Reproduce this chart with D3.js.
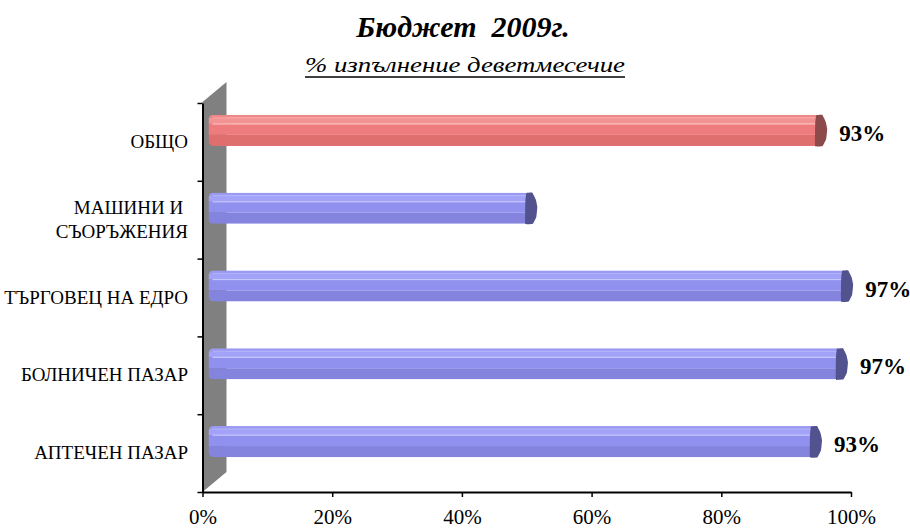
<!DOCTYPE html>
<html>
<head>
<meta charset="utf-8">
<script src="https://cdn.jsdelivr.net/npm/d3@7"></script>
<style>
  body { margin: 0; background: #fff; }
  svg { display: block; font-family: "Liberation Serif", "Times New Roman", serif; }
</style>
</head>
<body>
<svg id="chart"></svg>
<script>
// data, top to bottom
const categories = ["ОБЩО", "МАШИНИ И \nСЪОРЪЖЕНИЯ", "ТЪРГОВЕЦ НА ЕДРО", "БОЛНИЧЕН ПАЗАР", "АПТЕЧЕН ПАЗАР"];
const values = [0.934, 0.487, 0.974, 0.966, 0.926];
const showLabel = [true, false, true, true, true];
const xTicks = [0, 0.2, 0.4, 0.6, 0.8, 1];

const width = 910, height = 529;
const depthX = 24, depthY = 20;

const svg = d3.select("#chart").attr("width", width).attr("height", height);

const x = d3.scaleLinear().domain([0, 1]).range([202.5, 851]);
const y = d3.scaleBand().domain(categories).range([103, 492]);
const yLin = d3.scaleLinear().domain([0, categories.length]).range([103, 492]);

const pct = d3.format(".0%");

const palette = {
  blue: { f0: "#9a9af2", l0: "#b4b4fc", f1: "#a2a2f8", l1: "#c6c6ff", f2: "#9090ee", f3: "#8484df", cap: "#52528e" },
  red:  { f0: "#ee8888", l0: "#fbaaaa", f1: "#f39292", l1: "#ffbdbd", f2: "#ef7c7c", f3: "#df6e6e", cap: "#8c4a4a" }
};

// back wall
const x0 = x(0), yb = y.range()[1], yt = y.range()[0] - 1;
svg.append("path")
  .attr("d", `M${x0},${yt} L${x0 + depthX},${yt - depthY} L${x0 + depthX},${yb - depthY} L${x0},${yb} Z`)
  .attr("fill", "#808080");

// bars
const defs = svg.append("defs");
const barH = y.bandwidth() * 0.4;
const bars = svg.append("g");

categories.forEach((c, i) => {
  const col = c === "ОБЩО" ? palette.red : palette.blue;
  const top = y(c) + (y.bandwidth() - barH) / 2 - depthY / 2 - 1.5;
  const xs = x(0) + 6;
  const xe = x(values[i]) + 9;
  const w = xe - xs;

  defs.append("clipPath").attr("id", "clip" + i)
    .append("rect")
    .attr("x", xs).attr("y", top).attr("width", w + 4).attr("height", barH).attr("rx", 5);

  const g = bars.append("g").attr("clip-path", `url(#clip${i})`);
  const facets = [
    [0, 3, col.f0], [3, 9, col.f1], [9, 20, col.f2], [20, barH, col.f3]
  ];
  facets.forEach(([a, b, fill]) => {
    g.append("rect").attr("x", xs).attr("y", top + a).attr("width", w + 4).attr("height", b - a).attr("fill", fill);
  });
  g.append("rect").attr("x", xs + 4).attr("y", top + 2.5).attr("width", w).attr("height", 1).attr("fill", col.l0);
  g.append("rect").attr("x", xs + 4).attr("y", top + 8.5).attr("width", w).attr("height", 1.2).attr("fill", col.l1);

  // end cap: flat hexagon-like face
  const capPts = [
    [xe - 1, top + 0.5], [xe + 5, top], [xe + 8.5, top + barH * 0.22], [xe + 10, top + barH * 0.45],
    [xe + 9, top + barH * 0.78], [xe + 5.5, top + barH], [xe - 2, top + barH], [xe - 2, top + barH * 0.3]
  ];
  bars.append("path")
    .attr("d", d3.line().curve(d3.curveCardinalClosed.tension(0.75))(capPts))
    .attr("fill", col.cap);

  if (showLabel[i]) {
    svg.append("text")
      .attr("x", x(values[i]) + 31)
      .attr("y", top + barH / 2 + 3)
      .attr("dominant-baseline", "central")
      .attr("font-size", 23)
      .attr("font-weight", "bold")
      .text(pct(values[i]));
  }
});

// left axis (ticks on category boundaries)
const yAxis = svg.append("g")
  .attr("transform", `translate(${x0},0)`)
  .call(d3.axisLeft(yLin).ticks(categories.length).tickSize(5).tickFormat("").tickSizeOuter(0));
yAxis.select(".domain").attr("stroke-width", 2);
yAxis.selectAll(".tick line").attr("stroke-width", 1.5);

// category labels
categories.forEach(c => {
  const lines = c.split("\n");
  const t = svg.append("text")
    .attr("x", 188)
    .attr("y", y(c) + y.bandwidth() / 2)
    .attr("text-anchor", "end")
    .attr("font-size", 19)
    .style("white-space", "pre");
  lines.forEach((ln, k) => {
    t.append("tspan")
      .attr("x", 188)
      .attr("dy", k === 0 ? (-(lines.length - 1) * 12 + 6) : 24)
      .text(ln);
  });
});

// bottom axis
const xAxis = svg.append("g")
  .attr("transform", `translate(0,${yb})`)
  .call(d3.axisBottom(x).tickValues(xTicks).tickFormat(pct).tickSize(5).tickPadding(12).tickSizeOuter(0));
xAxis.select(".domain").attr("stroke-width", 2);
xAxis.selectAll(".tick line").attr("stroke-width", 1.5);
xAxis.selectAll("text")
  .attr("font-size", 21)
  .attr("font-family", "Liberation Serif, serif")
  .attr("fill", "#000");

// titles
svg.append("text")
  .attr("x", 463).attr("y", 37)
  .attr("text-anchor", "middle")
  .attr("font-size", 30)
  .attr("font-weight", "bold")
  .attr("font-style", "italic")
  .style("white-space", "pre")
  .text("Бюджет  2009г.");

svg.append("text")
  .attr("x", 305).attr("y", 72)
  .attr("font-size", 22)
  .attr("font-style", "italic")
  .attr("textLength", 320)
  .attr("lengthAdjust", "spacingAndGlyphs")
  .text("% изпълнение деветмесечие");
svg.append("line")
  .attr("x1", 305).attr("x2", 625)
  .attr("y1", 77).attr("y2", 77)
  .attr("stroke", "#000").attr("stroke-width", 1.5);
</script>
</body>
</html>
